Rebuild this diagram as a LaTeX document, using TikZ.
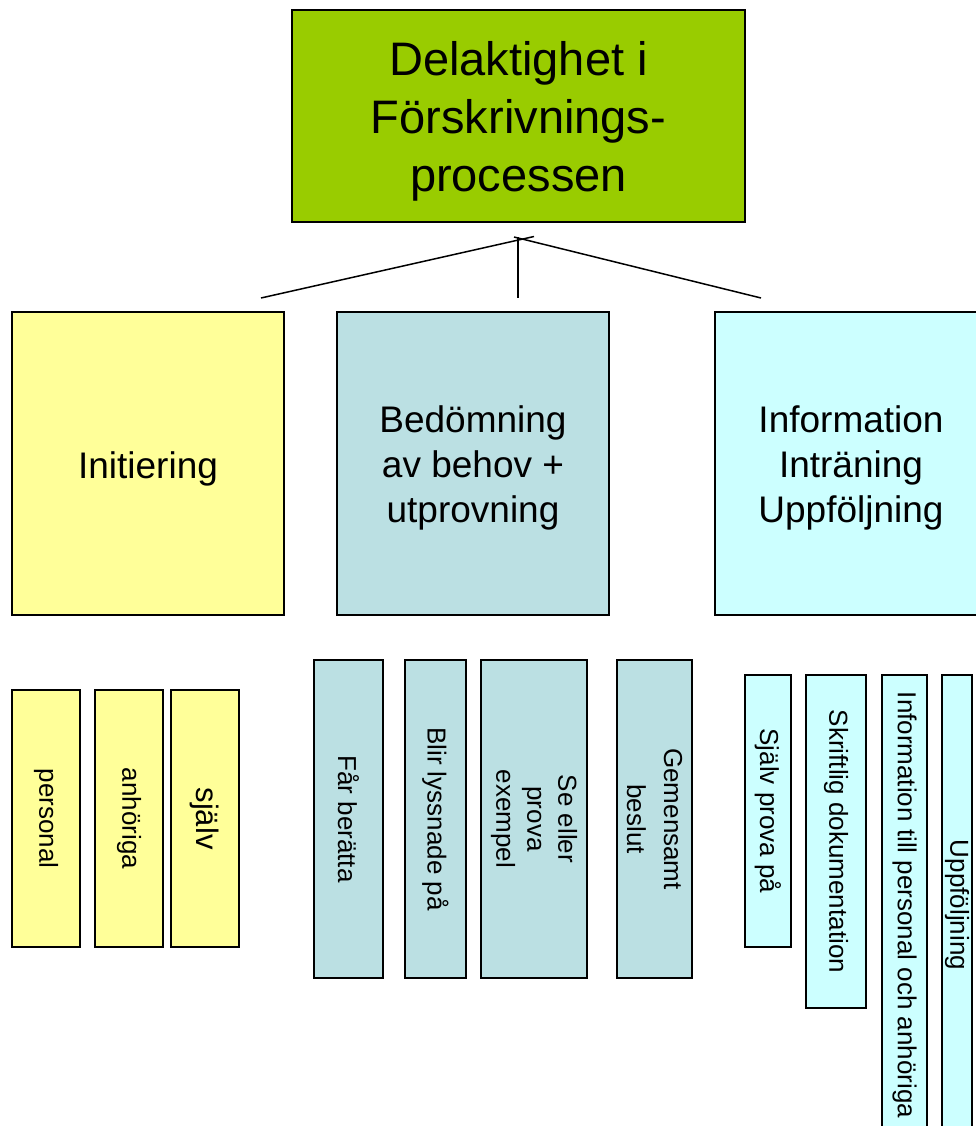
\documentclass[tikz,border=0pt]{standalone}
\usepackage{fontspec}
\setmainfont{Liberation Sans}
\definecolor{topgreen}{HTML}{99CC00}
\definecolor{yel}{HTML}{FFFF99}
\definecolor{teal}{HTML}{BBE0E3}
\definecolor{cyanbox}{HTML}{CCFFFF}
\begin{document}
\begin{tikzpicture}[x=1pt,y=-1pt,
  box/.style={draw=black, line width=1.4pt, inner sep=0pt, align=center, text=black},
  lbl/.style={inner sep=0pt, align=center, text=black},
  bigtxt/.style={font=\fontsize{47}{58}\selectfont},
  midtxt/.style={font=\fontsize{37}{45}\selectfont},
  smalltxt/.style={font=\fontsize{26}{31}\selectfont},
  vbox/.style={box, rotate=-90, smalltxt},
  conn/.style={draw=black, line width=1.5pt}]
\useasboundingbox (0,0) rectangle (976,1126);
\clip (0,0) rectangle (976,1126);

% top
\node[box, fill=topgreen, minimum width=453pt, minimum height=212pt] (top) at (518.5,116) {};
\node[lbl, bigtxt] (topT) at ([yshift=-5pt]top.center) {Delaktighet i\\Förskrivnings-\\processen};

% connectors
\coordinate (lA) at (261,298); \coordinate (lB) at (534,236.5);
\coordinate (rA) at (514,237); \coordinate (rB) at (761,298);
\coordinate (vA) at (518,237); \coordinate (vB) at (518,298);
\draw[conn] (lA) -- (lB);
\draw[conn] (rA) -- (rB);
\draw[conn] (vA) -- (vB);

% middle row
\node[box, fill=yel, minimum width=272pt, minimum height=303pt] (init) at (148,463.5) {};
\node[lbl, midtxt] (initT) at ([yshift=-5pt]init.center) {Initiering};
\node[box, fill=teal, minimum width=272pt, minimum height=303pt] (bed) at (473,463.5) {};
\node[lbl, midtxt] (bedT) at ([yshift=-4pt]bed.center) {Bedömning\\av behov +\\utprovning};
\node[box, fill=cyanbox, minimum width=272pt, minimum height=303pt] (info) at (851,463.5) {};
\node[lbl, midtxt] (infoT) at ([yshift=-4pt]info.center) {Information\\Inträning\\Uppföljning};

% bottom yellow
\node[vbox, fill=yel, minimum width=257pt, minimum height=68pt] (pers) at (46,818.5) {personal};
\node[vbox, fill=yel, minimum width=257pt, minimum height=68pt] (anh) at (129,818.5) {anhöriga};
\node[vbox, fill=yel, minimum width=257pt, minimum height=68pt, font=\fontsize{31}{36}\selectfont] (sjalv) at (205,818.5) {själv};

% bottom teal
\node[vbox, fill=teal, minimum width=318pt, minimum height=69pt] (far) at (348.5,819) {Får berätta};
\node[vbox, fill=teal, minimum width=318pt, minimum height=61pt] (blir) at (435.5,819) {Blir lyssnade på};
\node[vbox, fill=teal, minimum width=318pt, minimum height=106pt, font=\fontsize{26}{31}\selectfont] (se) at (534,819) {Se eller\\prova\\exempel};
\node[vbox, fill=teal, minimum width=318pt, minimum height=75pt, font=\fontsize{26}{37}\selectfont] (gem) at (654.5,819) {Gemensamt\\beslut};

% bottom cyan
\node[vbox, fill=cyanbox, minimum width=272pt, minimum height=46pt] (sjp) at (768,811) {Själv prova på};
\node[vbox, fill=cyanbox, minimum width=333pt, minimum height=60pt] (skr) at (836,841.5) {Skriftlig dokumentation};
\node[vbox, fill=cyanbox, minimum width=460pt, minimum height=45pt] (inft) at (904.5,905) {Information till personal och anhöriga};
\node[vbox, fill=cyanbox, minimum width=460pt, minimum height=30pt] (upp) at (957,905) {Uppföljning};
\end{tikzpicture}
\end{document}
